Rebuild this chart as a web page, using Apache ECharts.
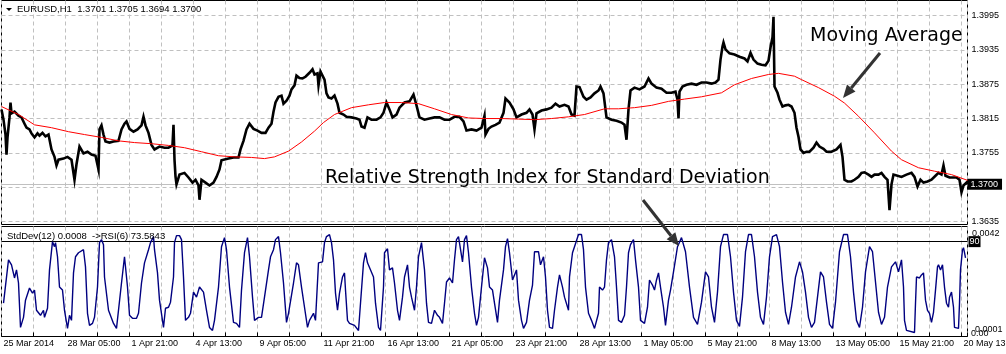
<!DOCTYPE html>
<html>
<head>
<meta charset="utf-8">
<title>EURUSD,H1</title>
<script src="https://cdn.jsdelivr.net/npm/echarts@6/dist/echarts.min.js"></script>
<style>
html,body{margin:0;padding:0;background:#fff;}
#main{width:1006px;height:354px;}
</style>
</head>
<body>
<div id="main"></div>
<script>
// x is the bar number (H1 bars, one pixel each), 0 = 25 Mar 2014
var xLabels = ['25 Mar 2014', '28 Mar 05:00', '1 Apr 21:00', '4 Apr 13:00', '9 Apr 05:00', '11 Apr 21:00',
	'16 Apr 13:00', '21 Apr 05:00', '23 Apr 21:00', '28 Apr 13:00', '1 May 05:00', '5 May 21:00',
	'8 May 13:00', '13 May 05:00', '15 May 21:00', '20 May 13:00'];
var priceTicks = [1.3635, 1.3695, 1.3755, 1.3815, 1.3875, 1.3935, 1.3995];
var lastPrice = 1.3700;
var rsiLevel = 90;

// EURUSD price (bar number, price)
var priceLine = [[0,1.3831],[2,1.3813],[4,1.3787],[5,1.3752],[6,1.3782],[8,1.3817],[9,1.3843],[10,1.3824],[13,1.3827],[17,1.3820],[20,1.3817],[23,1.3806],[25,1.3799],[28,1.3796],[30,1.3789],[33,1.3782],[36,1.3789],[38,1.3785],[41,1.3790],[44,1.3784],[47,1.3787],[50,1.3761],[53,1.3748],[55,1.3733],[57,1.3743],[62,1.3745],[66,1.3748],[70,1.3743],[73,1.3708],[75,1.3735],[78,1.3766],[82,1.3754],[86,1.3757],[90,1.3752],[94,1.3750],[97,1.3726],[98,1.3796],[100,1.3803],[102,1.3787],[104,1.3775],[108,1.3773],[112,1.3775],[117,1.3776],[120,1.3796],[123,1.3806],[125,1.3810],[128,1.3797],[132,1.3792],[136,1.3796],[140,1.3803],[142,1.3818],[144,1.3803],[147,1.3790],[150,1.3769],[153,1.3761],[158,1.3766],[163,1.3764],[167,1.3764],[171,1.3768],[172,1.3804],[173,1.3743],[174,1.3714],[175,1.3700],[178,1.3717],[183,1.3720],[187,1.3712],[191,1.3703],[194,1.3708],[197,1.3698],[198,1.3673],[200,1.3708],[204,1.3703],[208,1.3698],[212,1.3703],[215,1.3713],[218,1.3726],[220,1.3742],[222,1.3743],[227,1.3745],[232,1.3747],[237,1.3747],[239,1.3761],[242,1.3776],[245,1.3796],[248,1.3806],[252,1.3797],[256,1.3794],[260,1.3790],[264,1.3790],[267,1.3799],[270,1.3806],[272,1.3827],[274,1.3843],[277,1.3853],[280,1.3855],[282,1.3841],[285,1.3846],[288,1.3855],[290,1.3866],[293,1.3873],[295,1.3890],[298,1.3886],[301,1.3885],[304,1.3888],[308,1.3895],[311,1.3901],[313,1.3892],[316,1.3894],[317,1.3873],[319,1.3897],[321,1.3894],[323,1.3883],[325,1.3859],[327,1.3852],[330,1.3850],[333,1.3855],[336,1.3841],[338,1.3825],[342,1.3822],[345,1.3818],[350,1.3817],[355,1.3815],[358,1.3813],[360,1.3801],[363,1.3799],[366,1.3817],[370,1.3813],[375,1.3813],[379,1.3817],[382,1.3825],[385,1.3843],[388,1.3831],[391,1.3817],[395,1.3822],[398,1.3834],[403,1.3843],[408,1.3845],[412,1.3857],[415,1.3838],[418,1.3817],[423,1.3813],[428,1.3815],[433,1.3817],[438,1.3817],[443,1.3813],[448,1.3813],[453,1.3818],[458,1.3818],[462,1.3810],[465,1.3794],[470,1.3796],[475,1.3794],[480,1.3799],[483,1.3820],[484,1.3787],[487,1.3797],[490,1.3801],[494,1.3804],[498,1.3808],[502,1.3825],[504,1.3850],[508,1.3843],[512,1.3831],[515,1.3817],[520,1.3822],[525,1.3825],[528,1.3831],[531,1.3822],[533,1.3796],[535,1.3824],[540,1.3829],[545,1.3831],[550,1.3834],[554,1.3841],[558,1.3836],[563,1.3839],[567,1.3836],[570,1.3822],[573,1.3820],[575,1.3871],[578,1.3870],[582,1.3853],[585,1.3848],[589,1.3852],[593,1.3859],[597,1.3864],[599,1.3871],[602,1.3859],[605,1.3817],[610,1.3813],[615,1.3811],[620,1.3808],[623,1.3804],[625,1.3778],[627,1.3831],[629,1.3864],[633,1.3869],[638,1.3866],[643,1.3871],[647,1.3885],[650,1.3876],[655,1.3869],[660,1.3867],[665,1.3860],[670,1.3860],[674,1.3862],[676,1.3848],[677,1.3815],[678,1.3862],[681,1.3871],[685,1.3874],[690,1.3876],[695,1.3874],[700,1.3878],[705,1.3878],[710,1.3876],[714,1.3878],[717,1.3883],[719,1.3918],[721,1.3941],[722,1.3948],[724,1.3936],[728,1.3929],[733,1.3927],[738,1.3923],[743,1.3920],[746,1.3915],[749,1.3930],[752,1.3918],[756,1.3911],[760,1.3909],[764,1.3908],[767,1.3916],[769,1.3939],[771,1.3957],[772,1.3993],[773,1.3871],[776,1.3860],[778,1.3848],[781,1.3836],[784,1.3838],[787,1.3839],[790,1.3836],[793,1.3825],[795,1.3799],[797,1.3783],[799,1.3761],[802,1.3755],[805,1.3757],[808,1.3757],[812,1.3764],[815,1.3773],[818,1.3766],[822,1.3762],[825,1.3757],[830,1.3757],[835,1.3761],[839,1.3769],[841,1.3748],[843,1.3708],[846,1.3705],[850,1.3705],[853,1.3708],[857,1.3713],[860,1.3720],[863,1.3721],[867,1.3717],[870,1.3713],[873,1.3717],[877,1.3717],[880,1.3720],[883,1.3713],[886,1.3708],[888,1.3655],[890,1.3700],[892,1.3717],[896,1.3715],[900,1.3713],[905,1.3717],[910,1.3720],[913,1.3713],[916,1.3696],[919,1.3708],[922,1.3703],[926,1.3705],[930,1.3708],[934,1.3715],[937,1.3720],[940,1.3717],[942,1.3733],[944,1.3715],[948,1.3712],[952,1.3712],[955,1.3712],[958,1.3708],[960,1.3686],[962,1.3698],[965,1.3703],[966,1.3700]];

// moving average (bar number, price)
var maLine = [[0,1.3836],[17,1.3822],[33,1.3804],[50,1.3799],[67,1.3792],[83,1.3787],[100,1.3782],[117,1.3776],[133,1.3773],[150,1.3771],[167,1.3768],[183,1.3764],[200,1.3757],[217,1.3750],[233,1.3748],[250,1.3747],[263,1.3745],[273,1.3748],[287,1.3758],[300,1.3774],[313,1.3793],[322,1.3808],[333,1.3822],[350,1.3834],[367,1.3839],[383,1.3843],[400,1.3843],[417,1.3841],[433,1.3832],[450,1.3822],[467,1.3816],[483,1.3815],[500,1.3815],[517,1.3814],[533,1.3813],[550,1.3815],[567,1.3818],[583,1.3822],[603,1.3832],[617,1.3832],[633,1.3834],[650,1.3838],[667,1.3845],[683,1.3849],[700,1.3853],[720,1.3860],[733,1.3874],[750,1.3885],[767,1.3892],[777,1.3894],[793,1.3889],[800,1.3883],[817,1.3869],[833,1.3854],[843,1.3842],[857,1.3819],[873,1.3790],[890,1.3758],[900,1.3743],[917,1.3729],[933,1.3723],[950,1.3717],[966,1.3707]];

// StdDev(12) -> RSI(6) (bar number, value)
var rsiLine = [[2,29],[7,72],[10,67],[13,54],[15,62],[17,49],[19,5],[22,15],[24,32],[28,44],[31,39],[33,42],[35,22],[37,23],[39,17],[42,22],[43,15],[46,24],[48,62],[51,90],[53,85],[54,89],[56,75],[58,45],[61,42],[63,22],[66,4],[68,17],[70,12],[72,59],[74,75],[77,79],[79,80],[82,82],[84,65],[86,19],[88,7],[91,9],[93,15],[96,45],[98,89],[100,92],[102,87],[103,55],[107,22],[112,9],[115,4],[117,5],[120,49],[123,75],[126,45],[128,17],[131,14],[133,15],[135,14],[137,19],[140,49],[143,69],[147,82],[149,89],[152,95],[153,82],[156,59],[158,32],[162,5],[164,24],[167,25],[169,30],[172,55],[173,89],[175,96],[178,96],[180,92],[182,55],[184,12],[187,15],[189,19],[192,40],[195,35],[198,45],[202,40],[205,22],[208,5],[211,2],[213,12],[217,45],[220,85],[223,94],[225,82],[228,45],[232,10],[235,9],[238,5],[240,42],[243,79],[246,94],[248,75],[251,35],[253,12],[257,15],[260,15],[263,35],[267,62],[269,75],[272,82],[274,92],[277,95],[279,79],[282,49],[285,10],[287,19],[292,49],[295,69],[297,67],[300,45],[303,25],[306,5],[308,12],[312,19],[314,12],[317,69],[321,70],[323,89],[325,95],[328,97],[330,89],[332,72],[334,39],[336,22],[338,39],[341,55],[343,59],[344,42],[346,12],[348,9],[353,7],[357,2],[359,29],[362,69],[364,79],[366,69],[368,70],[372,55],[374,29],[377,5],[379,2],[382,45],[383,79],[386,83],[388,62],[391,64],[393,49],[396,22],[398,12],[401,35],[403,55],[406,67],[408,45],[410,35],[413,22],[415,45],[417,75],[420,89],[423,62],[425,29],[427,10],[430,9],[433,22],[436,17],[438,15],[441,9],[443,29],[445,50],[448,54],[451,49],[453,72],[455,92],[457,95],[461,70],[463,92],[465,96],[467,79],[470,45],[473,19],[475,7],[477,15],[480,45],[483,74],[486,64],[488,45],[491,42],[493,29],[496,10],[498,32],[502,62],[504,85],[506,93],[508,79],[511,52],[513,57],[515,62],[517,32],[520,12],[522,4],[525,10],[528,32],[531,47],[533,80],[537,80],[539,67],[542,75],[544,55],[546,22],[548,5],[551,4],[553,22],[556,45],[558,57],[561,45],[563,35],[567,22],[568,55],[571,79],[573,85],[577,97],[580,97],[582,82],[584,45],[587,19],[590,12],[593,4],[597,19],[598,45],[601,42],[603,45],[605,72],[607,89],[610,92],[613,75],[615,45],[617,12],[620,10],[623,17],[625,45],[627,79],[629,87],[632,92],[634,72],[637,45],[639,12],[643,9],[646,25],[648,52],[651,47],[653,42],[655,52],[657,59],[659,45],[662,25],[664,7],[667,32],[669,42],[672,60],[676,85],[680,94],[684,80],[688,45],[692,15],[696,8],[700,30],[704,60],[707,55],[710,25],[713,10],[716,40],[719,85],[722,97],[726,97],[729,75],[732,40],[735,12],[738,6],[741,35],[744,80],[747,97],[750,97],[753,75],[756,40],[759,15],[762,8],[765,35],[768,75],[771,95],[775,97],[778,85],[781,50],[784,20],[787,8],[790,25],[794,55],[798,70],[801,60],[804,40],[807,15],[810,5],[813,10],[816,35],[819,60],[822,55],[825,30],[828,8],[831,4],[834,30],[838,80],[842,97],[846,97],[849,75],[852,40],[855,12],[858,5],[861,25],[864,60],[868,85],[871,80],[874,50],[877,20],[880,8],[883,15],[886,45],[890,65],[894,70],[897,60],[900,72],[902,45],[903,12],[905,2],[913,0],[914,29],[915,55],[918,54],[920,57],[922,59],[923,45],[924,32],[926,22],[928,19],[930,10],[932,20],[934,42],[936,65],[937,67],[939,62],[941,67],[943,45],[945,29],[947,25],[948,35],[950,40],[952,25],[953,5],[955,4],[957,4],[958,29],[959,62],[961,82],[962,84],[963,79],[964,74]];

var axisFont = 'Liberation Sans';
var gridColor = '#c0c0c0';

// arrow for the annotations: shaft + head
function arrow(x1, y1, x2, y2) {
	var dx = x2 - x1, dy = y2 - y1;
	var len = Math.sqrt(dx * dx + dy * dy);
	var ux = dx / len, uy = dy / len;
	var hl = 13, hw = 5.5;
	var bx = x2 - ux * hl, by = y2 - uy * hl;
	return [
		{type: 'line', z: 100, shape: {x1: x1, y1: y1, x2: bx, y2: by}, style: {stroke: '#333', lineWidth: 3}},
		{type: 'polygon', z: 100, shape: {points: [[x2, y2], [bx - uy * hw, by + ux * hw], [bx + uy * hw, by - ux * hw]]}, style: {fill: '#333'}}
	];
}

function label(x, y, text, size, family) {
	return {type: 'text', x: x, y: y, z: 100, style: {
		text: text, fill: '#000', verticalAlign: 'middle',
		font: size + 'px "' + (family || axisFont) + '"'
	}};
}

var myChart = echarts.init(document.getElementById('main'));

var gridLines = priceTicks.map(function (v) {
	return {yAxis: v, label: {show: v !== 1.3695, formatter: v.toFixed(4)}};
});
gridLines.push({
	yAxis: lastPrice,
	lineStyle: {type: 'solid', color: gridColor},
	label: {formatter: lastPrice.toFixed(4), backgroundColor: '#000', color: '#fff', padding: [1, 4, 1, 3], distance: 0}
});

var graphics = [
	{type: 'polygon', z: 100, shape: {points: [[6, 8], [12, 8], [9, 11]]}, style: {fill: '#000'}},
	label(17, 9, 'EURUSD,H1  1.3701 1.3705 1.3694 1.3700', 9.5),
	label(7, 236, 'StdDev(12) 0.0008  ->RSI(6) 73.5843', 9.5),
	label(972, 234, '0.0042', 9),
	label(975, 330, '0.0001', 9),
	label(971, 334, '0.00', 9),
	label(810, 36, 'Moving Average', 19, 'DejaVu Sans'),
	label(325, 178, 'Relative Strength Index for Standard Deviation', 19, 'DejaVu Sans')
];
graphics = graphics.concat(arrow(880, 53, 843, 98), arrow(643, 200, 679, 246));

var option = {
	animation: false,
	backgroundColor: '#fff',
	textStyle: {fontFamily: axisFont},
	// half-pixel offsets keep the 1px panel borders crisp
	grid: [
		{left: 1.5, top: 0.5, width: 966, height: 224, outerBoundsMode: 'none', containLabel: false,
			show: true, borderColor: '#000', borderWidth: 1, backgroundColor: '#fff'},
		{left: 1.5, top: 226.5, width: 966, height: 110, outerBoundsMode: 'none', containLabel: false,
			show: true, borderColor: '#000', borderWidth: 1, backgroundColor: '#fff'}
	],
	xAxis: [
		{
			gridIndex: 0, type: 'value', min: 0, max: 966, interval: 32,
			axisLine: {show: false}, axisTick: {show: false}, axisLabel: {show: false},
			splitLine: {show: true, lineStyle: {color: gridColor, type: [4, 3]}}
		},
		{
			gridIndex: 1, type: 'value', min: 0, max: 966, interval: 32,
			axisLine: {show: false},
			axisTick: {show: true, length: 4, lineStyle: {color: '#000'}},
			axisLabel: {
				show: true, align: 'left', margin: 3, padding: [0, 0, 0, 2],
				color: '#000', fontSize: 9, fontFamily: axisFont,
				showMinLabel: true, showMaxLabel: true,
				formatter: function (v) {
					if (v % 64 !== 0) return '';
					return xLabels[v / 64] || '';
				}
			},
			splitLine: {show: true, lineStyle: {color: gridColor, type: [4, 3]}}
		}
	],
	yAxis: [
		{gridIndex: 0, type: 'value', min: 1.36298, max: 1.40213, show: false, splitLine: {show: false}},
		{gridIndex: 1, type: 'value', min: -4, max: 105, show: false, splitLine: {show: false}}
	],
	graphic: graphics,
	series: [
		{
			name: 'EURUSD', type: 'line', xAxisIndex: 0, yAxisIndex: 0, z: 2,
			data: priceLine, symbol: 'none',
			lineStyle: {color: '#000', width: 2.6, join: 'miter'},
			markLine: {
				z: 1, silent: true, symbol: ['none', 'none'], precision: 4,
				lineStyle: {color: gridColor, type: [4, 3], width: 1},
				label: {position: 'end', distance: 4, color: '#000', fontSize: 9, fontFamily: axisFont},
				data: gridLines
			}
		},
		{
			name: 'MA', type: 'line', xAxisIndex: 0, yAxisIndex: 0, z: 3,
			data: maLine, symbol: 'none',
			lineStyle: {color: '#ff0000', width: 1}
		},
		{
			name: 'RSI', type: 'line', xAxisIndex: 1, yAxisIndex: 1, z: 3,
			data: rsiLine, symbol: 'none',
			lineStyle: {color: '#000080', width: 1.4},
			markLine: {
				z: 2, silent: true, symbol: ['none', 'none'],
				lineStyle: {color: '#000', type: 'solid', width: 1},
				label: {position: 'end', distance: 1, formatter: String(rsiLevel), backgroundColor: '#000', color: '#fff', padding: [1, 1], fontSize: 9, fontFamily: axisFont},
				data: [{yAxis: rsiLevel}]
			}
		}
	]
};
myChart.setOption(option);
</script>
</body>
</html>
